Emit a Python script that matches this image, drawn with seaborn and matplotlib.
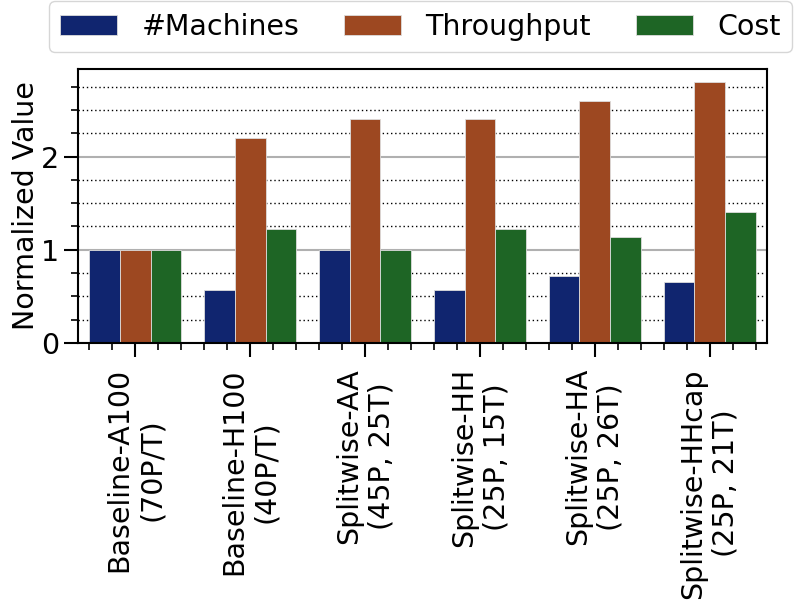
import matplotlib
matplotlib.use("Agg")
import matplotlib.pyplot as plt
from matplotlib.ticker import MultipleLocator
import pandas as pd
import seaborn as sns

configs = ["Baseline-A100\n(70P/T)", "Baseline-H100\n(40P/T)", "Splitwise-AA\n(45P, 25T)",
           "Splitwise-HH\n(25P, 15T)", "Splitwise-HA\n(25P, 26T)", "Splitwise-HHcap\n(25P, 21T)"]
machines = [1.0, 0.57, 1.0, 0.57, 0.72, 0.65]
throughput = [1.0, 2.2, 2.4, 2.4, 2.6, 2.8]
cost = [1.0, 1.22, 1.0, 1.22, 1.14, 1.41]
metrics = ["#Machines", "Throughput", "Cost"]

rows = []
for i, c in enumerate(configs):
    for m, vals in zip(metrics, [machines, throughput, cost]):
        rows.append({"config": c, "metric": m, "value": vals[i]})
df = pd.DataFrame(rows)

sns.set_style("ticks")
plt.rcParams['font.family'] = ['DejaVu Sans']
plt.rcParams['text.color'] = 'black'
plt.rcParams['axes.labelcolor'] = 'black'
plt.rcParams['xtick.color'] = 'black'
plt.rcParams['ytick.color'] = 'black'
fs = 20.5

fig = plt.figure(figsize=(7.96, 6.04), dpi=100)
ax = fig.add_axes([0.098, 0.432, 0.8656, 0.454])

sns.barplot(data=df, x="config", y="value", hue="metric", palette="dark", ax=ax,
            linewidth=0.6, edgecolor="#dddddd")

ax.set_ylim(0, 2.94)
ax.set_xlim(-0.5, 5.5)
ax.yaxis.set_major_locator(MultipleLocator(1))
ax.yaxis.set_minor_locator(MultipleLocator(0.25))
ax.xaxis.set_minor_locator(MultipleLocator(0.2))
ax.set_axisbelow(True)
ax.grid(which="major", axis="y", color="#b0b0b0", linewidth=1.5, linestyle="-")
ax.grid(which="minor", axis="y", color="black", linewidth=1, linestyle=(0, (1, 2)))

ax.set_xlabel("")
ax.set_ylabel("Normalized Value", fontsize=fs, labelpad=1)
ax.tick_params(axis="x", which="major", labelsize=fs, rotation=90, length=10, width=1.5,
               color="black", pad=8)
ax.tick_params(axis="x", which="minor", length=5, width=1.2, color="black")
ax.tick_params(axis="y", which="major", labelsize=fs, length=10, width=1.5, color="black")
ax.tick_params(axis="y", which="minor", length=5, width=1.2, color="black")
for lab in ax.get_xticklabels():
    lab.set_ha("center")
    lab.set_multialignment("center")
for s in ax.spines.values():
    s.set_color("black")
    s.set_linewidth(1.5)

ax.legend(loc="lower left", bbox_to_anchor=(49 / 796, 1 - 52 / 604, 743 / 796, 50 / 604),
          bbox_transform=fig.transFigure, mode="expand", ncol=3, fontsize=fs,
          frameon=True, fancybox=True, edgecolor="#cccccc", borderaxespad=0,
          handlelength=2.0, handletextpad=0.85)

fig.savefig("out.png", dpi=100)
